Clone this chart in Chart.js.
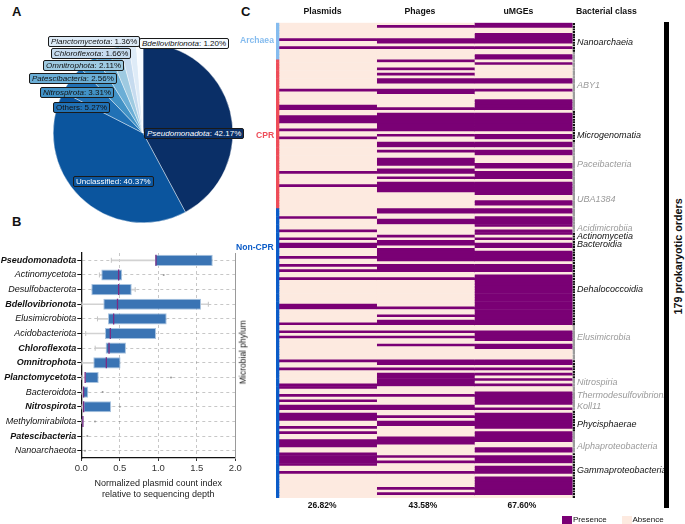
<!DOCTYPE html>
<html>
<head>
<meta charset="utf-8">
<script src="https://cdn.jsdelivr.net/npm/chart.js@4.4.1/dist/chart.umd.min.js"></script>
<style>
  body { margin: 0; width: 685px; height: 524px; position: relative; overflow: hidden; background: #fff;
         font-family: "Liberation Sans", Arial, sans-serif; color: #111; }
  canvas { position: absolute; }
  .txt { position: absolute; white-space: nowrap; line-height: 1; }
  .letter { position: absolute; font-weight: bold; font-size: 13px; }
  .plab { position: absolute; font-size: 8px; line-height: 9px; padding: 0 2px; border: 1px solid #1a1a1a;
          border-radius: 2px; white-space: nowrap; }
</style>
</head>
<body>
<div class="letter" style="left:12px;top:4px">A</div>
<div class="letter" style="left:12px;top:214px">B</div>
<div class="letter" style="left:241px;top:4px">C</div>

<canvas id="pieChart" width="180" height="180" style="left:53px;top:43px;width:180px;height:180px"></canvas>
<canvas id="boxChart" width="250" height="255" style="left:0px;top:245px;width:250px;height:255px"></canvas>
<canvas id="heatChart" width="392" height="524" style="left:272px;top:0px;width:392px;height:524px"></canvas>

<script>
//============================
// Data
//============================

// panel A - phylum share of plasmids
const pieNames = ["Pseudomonadota", "Unclassified", "Others", "Nitrospirota", "Patescibacteria",
  "Omnitrophota", "Chloroflexota", "Planctomycetota", "Bdellovibrionota"];
const piePercent = [42.17, 40.37, 5.27, 3.31, 2.56, 2.11, 1.66, 1.36, 1.2];
const pieColors = ["#0a2f67", "#0b559e", "#2171b5", "#4292c6", "#6baed6", "#9ecae1", "#c6dbef", "#deebf7", "#f7fbff"];

// panel B - normalized plasmid count index per phylum
const phyla = ["Pseudomonadota", "Actinomycetota", "Desulfobacterota", "Bdellovibrionota", "Elusimicrobiota",
  "Acidobacteriota", "Chloroflexota", "Omnitrophota", "Planctomycetota", "Bacteroidota", "Nitrospirota",
  "Methylomirabilota", "Patescibacteria", "Nanoarchaeota"];
const boldPhyla = ["Pseudomonadota", "Bdellovibrionota", "Chloroflexota", "Omnitrophota",
  "Planctomycetota", "Nitrospirota", "Patescibacteria"];
const whiskerLow = [0.39, 0.235, 0.13, 0.0, 0.21, 0.057, 0.18, 0.0, 0.0, 0.0, 0.0, 0.0, null, null];
const boxQ1 = [0.957, 0.26, 0.13, 0.286, 0.347, 0.308, 0.316, 0.156, 0.048, 0.022, 0.026, 0.01, null, null];
const boxMedian = [0.97, 0.485, 0.485, 0.47, 0.42, 0.377, 0.36, 0.325, 0.05, 0.03, 0.03, 0.02, null, null];
const boxQ3 = [1.707, 0.53, 0.655, 1.555, 1.109, 0.97, 0.58, 0.51, 0.226, 0.09, 0.386, 0.03, null, null];
const whiskerHigh = [1.707, 0.53, 0.70, 1.65, 1.109, 0.97, 0.58, 0.51, 0.226, 0.09, 0.386, 0.03, null, null];
const outlierPhylum = ["Actinomycetota", "Planctomycetota", "Bacteroidota", "Nitrospirota",
  "Methylomirabilota", "Patescibacteria", "Nanoarchaeota"];
const outlierValue = [1.07, 1.165, 0.277, 0.5, 0.178, 0.078, 0.048];

// panel C - presence of MGEs in 179 prokaryotic orders (row indices with presence)
const nRows = 179;
const plasmidRows = [6, 9, 25, 31, 32, 35, 36, 37, 40, 43, 56, 61, 73, 78, 81, 83, 84, 88, 91, 93, 96,
  106, 107, 113, 116, 118, 127, 130, 136, 137, 140, 142, 144, 145, 147, 148, 149, 152, 154, 157, 158,
  159, 162, 163, 164, 165, 166, 169];
const phageRows = [1, 6, 7, 9, 14, 17, 19, 21, 22, 25, 26, 32, 34, 35, 36, 37, 38, 39, 40, 42, 45, 46,
  48, 51, 52, 53, 55, 56, 58, 60, 61, 62, 63, 70, 71, 74, 75, 80, 82, 83, 85, 86, 87, 88, 89, 91, 92,
  93, 96, 107, 110, 112, 113, 116, 118, 121, 127, 128, 130, 132, 133, 134, 135, 136, 140, 144, 145,
  148, 150, 151, 156, 157, 158, 163, 165, 169, 175, 177];
const umgeRows = [0, 1, 4, 5, 6, 7, 9, 12, 13, 15, 21, 22, 25, 29, 30, 31, 32, 34, 35, 36, 37, 38, 39,
  40, 42, 43, 45, 46, 48, 49, 53, 54, 56, 57, 58, 60, 61, 62, 63, 64, 67, 68, 70, 71, 73, 74, 75, 76,
  78, 79, 81, 83, 84, 86, 87, 88, 89, 91, 92, 93, 95, 96, 97, 98, 99, 100, 101, 102, 103, 104, 105,
  106, 107, 108, 109, 110, 111, 112, 113, 116, 117, 118, 119, 121, 122, 127, 128, 130, 132, 134, 136,
  139, 140, 141, 142, 143, 145, 147, 148, 149, 150, 151, 152, 154, 155, 156, 157, 160, 161, 163, 164,
  165, 167, 168, 169, 171, 172, 173, 174, 175, 176, 177];
const colNames = ["Plasmids", "Phages", "uMGEs"];
const colPercent = ["26.82%", "43.58%", "67.60%"];

const groupNames = ["Archaea", "CPR", "Non-CPR"];
const groupSizes = [14, 56, 109];
const groupColors = ["#85bcef", "#ee4d59", "#0b5cc8"];

const classNames = ["Nanoarchaeia", "ABY1", "Microgenomatia", "Paceibacteria", "UBA1384", "Acidimicrobiia",
  "Actinomycetia", "Bacteroidia", "Dehalococcoidia", "Elusimicrobia", "", "Nitrospiria",
  "Thermodesulfovibrionia", "Koll11", "Phycisphaerae", "Alphaproteobacteria", "Gammaproteobacteria"];
const classStart = [0, 11, 33, 45, 60, 75, 79, 82, 86, 114, 127, 134, 138, 142, 146, 154, 162];
const classLabelRow = [7, 23, 42, 53, 66, 77, 80, 83, 100, 118, -1, 135, 140, 144, 151, 159, 168];
const classDark = [1, 0, 1, 0, 0, 0, 1, 1, 1, 0, 1, 0, 0, 0, 1, 0, 1];

const PRESENT = "#7a0075";
const ABSENT = "#fdeae0";

Chart.defaults.font.family = "'Liberation Sans', Arial, sans-serif";
Chart.defaults.animation = false;
Chart.defaults.plugins.legend.display = false;
Chart.defaults.plugins.tooltip.enabled = false;

//============================
// Text helpers
//============================

function addText(html, x, y, css, anchor) {
  var d = document.createElement("div");
  d.className = "txt";
  d.innerHTML = html;
  d.style.cssText += css;
  document.body.appendChild(d);
  var w = d.offsetWidth, h = d.offsetHeight;
  var left = anchor === "right" ? x - w : anchor === "left" ? x : x - w / 2;
  d.style.left = left + "px";
  d.style.top = (y - h / 2) + "px";
  return d;
}

//============================
// Panel A
//============================

new Chart(document.getElementById("pieChart"), {
  type: "pie",
  data: {
    labels: pieNames,
    datasets: [{ data: piePercent, backgroundColor: pieColors, borderColor: "#ffffff", borderWidth: 0.4 }],
  },
  options: { responsive: false, layout: { padding: 0 } },
});

const pieLabelPos = [[144, 128], [73, 176], [53, 102], [40, 87], [29, 73], [43, 60], [51, 48], [48, 36], [139, 38]];
for (let i = 0; i < pieNames.length; i++) {
  var d = document.createElement("div");
  d.className = "plab";
  d.style.left = pieLabelPos[i][0] + "px";
  d.style.top = pieLabelPos[i][1] + "px";
  d.style.background = pieColors[i];
  d.style.color = i < 2 ? "#fff" : "#111";
  var nm = (pieNames[i] === "Unclassified" || pieNames[i] === "Others") ? pieNames[i] : "<i>" + pieNames[i] + "</i>";
  d.innerHTML = nm + ": " + piePercent[i].toFixed(2) + "%";
  document.body.appendChild(d);
}

//============================
// Panel B
//============================

var whiskerEnds = [];
for (let i = 0; i < phyla.length; i++) {
  if (whiskerLow[i] !== null && whiskerLow[i] < boxQ1[i]) whiskerEnds.push({ x: whiskerLow[i], y: phyla[i] });
  if (whiskerHigh[i] !== null && whiskerHigh[i] > boxQ3[i]) whiskerEnds.push({ x: whiskerHigh[i], y: phyla[i] });
}

new Chart(document.getElementById("boxChart"), {
  type: "bar",
  data: {
    labels: phyla,
    datasets: [
      {
        label: "whisker",
        data: phyla.map((p, i) => (whiskerLow[i] === null ? null : [whiskerLow[i], whiskerHigh[i]])),
        backgroundColor: "#d2d2d2",
        barThickness: 1,
        grouped: false,
        order: 5,
        yAxisID: "y",
      },
      {
        label: "box",
        data: phyla.map((p, i) => (boxQ1[i] === null ? null : [boxQ1[i], boxQ3[i]])),
        backgroundColor: "#3a74b4",
        borderColor: "#a8c3df",
        borderWidth: 1,
        borderSkipped: false,
        barPercentage: 0.76,
        categoryPercentage: 1,
        grouped: false,
        order: 4,
        yAxisID: "y",
      },
      {
        type: "scatter",
        label: "median",
        data: phyla.map((p, i) => (boxMedian[i] === null ? null : { x: boxMedian[i], y: p })).filter((v) => v),
        pointStyle: "line",
        rotation: 90,
        radius: 5.5,
        borderColor: "#7c2b83",
        borderWidth: 1.3,
        order: 1,
        yAxisID: "y",
      },
      {
        type: "scatter",
        label: "ends",
        data: whiskerEnds,
        pointStyle: "line",
        rotation: 90,
        radius: 2.5,
        borderColor: "#c4c4c4",
        borderWidth: 1,
        order: 2,
        yAxisID: "y",
      },
      {
        type: "scatter",
        label: "outliers",
        data: outlierPhylum.map((p, i) => ({ x: outlierValue[i], y: p })),
        radius: 1,
        backgroundColor: "#9a9a9a",
        borderWidth: 0,
        order: 3,
        yAxisID: "y",
      },
    ],
  },
  options: {
    responsive: false,
    indexAxis: "y",
    layout: { padding: { top: 8, right: 14.7, left: 0, bottom: 0 } },
    scales: {
      x: {
        type: "linear",
        min: 0,
        max: 2,
        ticks: { stepSize: 0.5, callback: (v) => v.toFixed(1), font: { size: 9.5 }, color: "#333", padding: 2 },
        grid: { color: "rgba(0,0,0,0.22)", tickColor: "#333", tickLength: 3 },
        border: { display: true, color: "#111", width: 1.3, dash: [3, 3] },
        title: {
          display: true,
          text: ["Normalized plasmid count index", "relative to sequencing depth"],
          font: { size: 9, lineHeight: 1.2 },
          color: "#222",
          padding: { top: 0, bottom: 0 },
        },
        afterFit: function (scale) { scale.height = 42; },
      },
      y: {
        type: "category",
        ticks: {
          autoSkip: false,
          padding: 1,
          color: "#111",
          font: function (c) {
            var nm = phyla[c.index];
            return { size: 9, style: "italic", weight: boldPhyla.indexOf(nm) >= 0 ? "bold" : "normal" };
          },
        },
        grid: { offset: false, color: "rgba(0,0,0,0.22)", tickColor: "#111", tickLength: 4 },
        border: { display: true, color: "#111", width: 1.3, dash: [3, 3] },
        afterFit: function (scale) { scale.width = 81.3; },
      },
      y2: {
        type: "category",
        position: "right",
        labels: phyla,
        offset: true,
        ticks: { display: false },
        grid: { display: false, drawTicks: false },
        border: { display: true, color: "#9a9a9a", width: 1 },
        afterFit: function (scale) { scale.width = 0; },
      },
    },
  },
});

addText("Microbial phylum", 243, 352, "font-size:8.5px;transform:rotate(-90deg);");

//============================
// Panel C
//============================

var rowLabels = [];
for (let i = 0; i < nRows; i++) rowLabels.push(String(i + 1));

function presenceColors(rows) {
  var s = new Set(rows);
  return rowLabels.map((_, i) => (s.has(i) ? PRESENT : ABSENT));
}

var rowGroupColor = [];
groupSizes.forEach((n, g) => { for (let k = 0; k < n; k++) rowGroupColor.push(groupColors[g]); });

var rowClassDark = [];
for (let c = 0; c < classStart.length; c++) {
  var end = c + 1 < classStart.length ? classStart[c + 1] : nRows;
  for (let r = classStart[c]; r < end; r++) rowClassDark.push(classDark[c]);
}

var classTicks = rowLabels.map(() => "");
var classTickDark = rowLabels.map(() => 0);
classNames.forEach((nm, c) => {
  if (classLabelRow[c] >= 0) { classTicks[classLabelRow[c]] = nm; classTickDark[classLabelRow[c]] = classDark[c]; }
});

function cellDataset(label, rows, from, to) {
  return {
    label: label,
    data: rowLabels.map(() => [from, to]),
    backgroundColor: presenceColors(rows),
    borderWidth: 0,
    barPercentage: 1,
    categoryPercentage: 1,
    grouped: false,
    yAxisID: "y",
  };
}

new Chart(document.getElementById("heatChart"), {
  type: "bar",
  data: {
    labels: rowLabels,
    datasets: [
      {
        label: "group",
        data: rowLabels.map(() => [-0.03, 0]),
        backgroundColor: rowGroupColor,
        borderWidth: 0,
        barPercentage: 1,
        categoryPercentage: 1,
        grouped: false,
        yAxisID: "y",
      },
      cellDataset(colNames[0], plasmidRows, 0, 1),
      cellDataset(colNames[1], phageRows, 1, 2),
      cellDataset(colNames[2], umgeRows, 2, 3),
      {
        label: "class",
        data: rowLabels.map(() => [3.004, 3.03]),
        backgroundColor: rowClassDark.map((k) => (k ? "#111" : "#9c9c9c")),
        borderColor: rowClassDark.map((k) => (k ? "#ffffff" : "#9c9c9c")),
        borderWidth: { top: 0.7, bottom: 0, left: 0, right: 0 },
        borderSkipped: false,
        barPercentage: 1,
        categoryPercentage: 1,
        grouped: false,
        yAxisID: "y",
      },
    ],
  },
  options: {
    responsive: false,
    indexAxis: "y",
    layout: { padding: { left: 4, right: 0, top: 22.7, bottom: 26 } },
    scales: {
      x: { type: "linear", min: -0.03, max: 3.03, display: false },
      y: { type: "category", display: false },
      yc: {
        type: "category",
        position: "right",
        labels: classTicks,
        offset: true,
        grid: { display: false, drawTicks: false },
        border: { display: false },
        ticks: {
          autoSkip: false,
          padding: 2,
          font: { size: 9, style: "italic" },
          color: (c) => (classTickDark[c.index] ? "#111" : "#9a9a9a"),
        },
        afterFit: function (scale) { scale.width = 89; },
      },
    },
  },
});

// column headers and percentages
const colHeaderX = [322.5, 420, 518.5];
const colPercentX = [322.2, 423, 522];
colNames.forEach((nm, i) => {
  addText(nm, colHeaderX[i], 11, "font-size:8.7px;font-weight:bold;");
  addText(colPercent[i], colPercentX[i], 505, "font-size:8.5px;font-weight:bold;");
});
addText("Bacterial class", 606.5, 11, "font-size:8.7px;font-weight:bold;");

// group labels
const groupLabelY = [40, 135, 247];
groupNames.forEach((nm, g) => {
  addText(nm, 274, groupLabelY[g], "font-size:8.6px;font-weight:bold;color:" + groupColors[g] + ";", "right");
});

// orders bar
var bar = document.createElement("div");
bar.style.cssText = "position:absolute;left:664px;top:22px;width:5px;height:486px;background:#000;";
document.body.appendChild(bar);
addText("179 prokaryotic orders", 678, 256, "font-size:10.8px;font-weight:bold;transform:rotate(-90deg);");

// legend
function legendBox(x, color) {
  var b = document.createElement("div");
  b.style.cssText = "position:absolute;left:" + x + "px;top:515.5px;width:10px;height:8px;background:" + color + ";";
  document.body.appendChild(b);
}
legendBox(561.5, PRESENT);
addText("Presence", 573, 519.5, "font-size:8px;", "left");
legendBox(621.5, ABSENT);
addText("Absence", 632.5, 519.5, "font-size:8px;", "left");
</script>
</body>
</html>
